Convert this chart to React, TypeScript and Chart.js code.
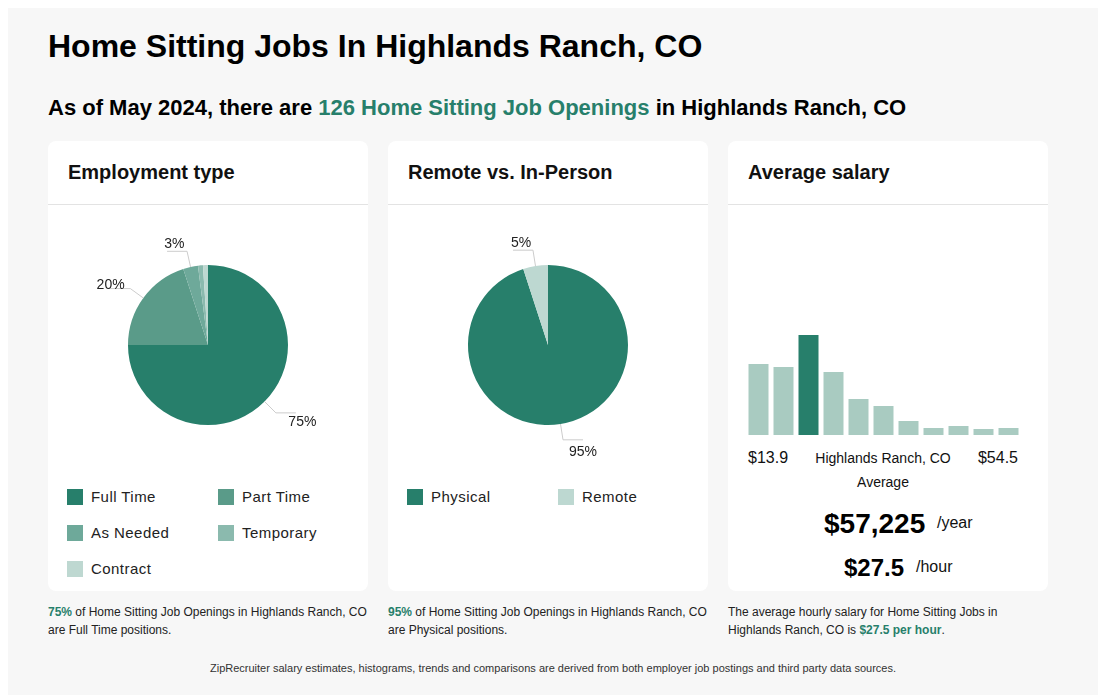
import React, { useEffect, useRef } from "react";
import { Chart, registerables } from "chart.js";

Chart.register(...registerables);

const FONT = '"Liberation Sans", Arial, Helvetica, sans-serif';
const GREEN = "#277f6b";

// ---- Data ----
const employmentLabels = ["Full Time", "Part Time", "As Needed", "Temporary", "Contract"];
const employmentValues = [75, 20, 3, 1, 1];
const employmentColors = ["#277f6b", "#5a9b89", "#6ea99a", "#8bbaae", "#bed8d1"];

const remoteLabels = ["Physical", "Remote"];
const remoteValues = [95, 5];
const remoteColors = ["#277f6b", "#bdd8d1"];

const salaryBins = ["Bin 1", "Bin 2", "Bin 3", "Bin 4", "Bin 5", "Bin 6", "Bin 7", "Bin 8", "Bin 9", "Bin 10", "Bin 11"];
const salaryCounts = [71, 68, 100, 63, 36, 29, 14, 7, 9, 6, 7];
const salaryHighlightIndex = 2;
const salaryMinLabel = "$13.9";
const salaryMaxLabel = "$54.5";
const salaryYear = "$57,225";
const salaryHour = "$27.5";

// ---- Pie label plugin ----
const pieLabelPlugin = {
  id: "pieOuterLabels",
  afterDatasetsDraw(chart: any) {
    const ctx = chart.ctx;
    const meta = chart.getDatasetMeta(0);
    const data = chart.data.datasets[0].data as number[];
    const total = data.reduce((a: number, b: number) => a + b, 0);
    meta.data.forEach((arc: any, i: number) => {
      const pct = Math.round((data[i] / total) * 100);
      if (pct < 2) return;
      const p = arc.getProps(["x", "y", "startAngle", "endAngle", "outerRadius"], true);
      const a = (p.startAngle + p.endAngle) / 2;
      const cx = Math.cos(a);
      const sy = Math.sin(a);
      const r = p.outerRadius;
      const ex = p.x + r * cx;
      const ey = p.y + r * sy;
      const kx = p.x + (r + 16) * cx;
      const ky = p.y + (r + 16) * sy;
      const side = cx >= 0 ? 1 : -1;
      const hx = kx + side * 20;
      ctx.save();
      ctx.strokeStyle = "#cccccc";
      ctx.lineWidth = 1;
      ctx.beginPath();
      ctx.moveTo(ex, ey);
      ctx.lineTo(kx, ky);
      ctx.lineTo(hx, ky);
      ctx.stroke();
      ctx.fillStyle = "#222222";
      ctx.font = "14px " + FONT;
      ctx.textAlign = "center";
      ctx.textBaseline = "middle";
      const tx = kx + side * (10 + 12 * Math.abs(cx) + (sy > 0 ? 8 : 0));
      const ty = ky + 9 * sy + (sy > 0 ? 3 : 2);
      ctx.fillText(pct + "%", tx, ty);
      ctx.restore();
    });
  },
};

function PieChart({ labels, values, colors }: { labels: string[]; values: number[]; colors: string[] }) {
  const ref = useRef<HTMLCanvasElement>(null);
  useEffect(() => {
    if (!ref.current) return;
    const chart = new Chart(ref.current, {
      type: "pie",
      data: {
        labels,
        datasets: [{ data: values, backgroundColor: colors, borderWidth: 0 }],
      },
      options: {
        responsive: false,
        animation: false,
        layout: { padding: { left: 80, right: 80, top: 60, bottom: 60 } },
        plugins: { legend: { display: false }, tooltip: { enabled: false } },
      },
      plugins: [pieLabelPlugin],
    } as any);
    return () => chart.destroy();
  }, []);
  return <canvas ref={ref} width={320} height={280} style={{ position: "absolute", left: 0, top: 64, width: 320, height: 280 }} />;
}

function SalaryBars() {
  const ref = useRef<HTMLCanvasElement>(null);
  useEffect(() => {
    if (!ref.current) return;
    const chart = new Chart(ref.current, {
      type: "bar",
      data: {
        labels: salaryBins,
        datasets: [
          {
            data: salaryCounts,
            backgroundColor: salaryCounts.map((_, i) => (i === salaryHighlightIndex ? "#277f6b" : "#a9cbc1")),
            borderWidth: 0,
            barPercentage: 0.8,
            categoryPercentage: 1.0,
          },
        ],
      },
      options: {
        responsive: false,
        animation: false,
        layout: { padding: 0 },
        scales: {
          x: { display: false },
          y: { display: false, min: 0, max: 120 },
        },
        plugins: { legend: { display: false }, tooltip: { enabled: false } },
      },
    } as any);
    return () => chart.destroy();
  }, []);
  return <canvas ref={ref} width={275} height={120} style={{ position: "absolute", left: 18, top: 174, width: 275, height: 120 }} />;
}

function Legend({ labels, colors }: { labels: string[]; colors: string[] }) {
  return (
    <>
      {labels.map((l, i) => {
        const col = i % 2;
        const row = Math.floor(i / 2);
        return (
          <div key={l} style={{ position: "absolute", left: 19 + col * 151, top: 348 + row * 36, height: 16, display: "flex", alignItems: "center" }}>
            <div style={{ width: 16, height: 16, background: colors[i] }} />
            <div style={{ marginLeft: 8, fontSize: 15, letterSpacing: 0.45, color: "#222", lineHeight: "16px", whiteSpace: "nowrap" }}>{l}</div>
          </div>
        );
      })}
    </>
  );
}

function Card({ left, title, children }: { left: number; title: string; children?: React.ReactNode }) {
  return (
    <div style={{ position: "absolute", left, top: 133, width: 320, height: 450, background: "#fff", borderRadius: 8, overflow: "hidden" }}>
      <div style={{ position: "absolute", left: 20, top: 15.5, fontSize: 20, fontWeight: "bold", lineHeight: "30px", color: "#111", whiteSpace: "nowrap" }}>{title}</div>
      <div style={{ position: "absolute", left: 0, top: 63, width: 320, height: 1, background: "#e3e3e3" }} />
      {children}
    </div>
  );
}

export default function App() {
  useEffect(() => {
    document.documentElement.style.overflow = "hidden";
    document.body.style.overflow = "hidden";
  }, []);
  const captionStyle: React.CSSProperties = { position: "absolute", top: 594.7, fontSize: 12, lineHeight: "18px", color: "#222", whiteSpace: "nowrap" };
  return (
    <div style={{ position: "relative", width: 1090, height: 687, background: "#f7f7f7", fontFamily: FONT, color: "#000" }}>
      <div style={{ position: "absolute", left: 40, top: 17.5, fontSize: 32, fontWeight: "bold", lineHeight: "40px", whiteSpace: "nowrap" }}>
        Home Sitting Jobs In Highlands Ranch, CO
      </div>
      <div style={{ position: "absolute", left: 40, top: 84.5, fontSize: 22, fontWeight: "bold", lineHeight: "30px", whiteSpace: "nowrap" }}>
        As of May 2024, there are <span style={{ color: GREEN }}>126 Home Sitting Job Openings</span> in Highlands Ranch, CO
      </div>

      <Card left={40} title="Employment type">
        <PieChart labels={employmentLabels} values={employmentValues} colors={employmentColors} />
        <Legend labels={employmentLabels} colors={employmentColors} />
      </Card>

      <Card left={380} title="Remote vs. In-Person">
        <PieChart labels={remoteLabels} values={remoteValues} colors={remoteColors} />
        <Legend labels={remoteLabels} colors={remoteColors} />
      </Card>

      <Card left={720} title="Average salary">
        <SalaryBars />
        <div style={{ position: "absolute", left: 20, top: 307, fontSize: 16, lineHeight: "20px", color: "#111" }}>{salaryMinLabel}</div>
        <div style={{ position: "absolute", right: 30, top: 307, fontSize: 16, lineHeight: "20px", color: "#111" }}>{salaryMaxLabel}</div>
        <div style={{ position: "absolute", left: 0, width: 310, top: 306.7, textAlign: "center", fontSize: 14, lineHeight: "20px", color: "#111" }}>Highlands Ranch, CO</div>
        <div style={{ position: "absolute", left: 0, width: 310, top: 331, textAlign: "center", fontSize: 14, lineHeight: "20px", color: "#111" }}>Average</div>
        <div style={{ position: "absolute", left: 96, top: 366, fontSize: 28, fontWeight: "bold", lineHeight: "34px" }}>{salaryYear}</div>
        <div style={{ position: "absolute", left: 209, top: 372, fontSize: 16, lineHeight: "20px", color: "#111" }}>/year</div>
        <div style={{ position: "absolute", left: 116, top: 412, fontSize: 24, fontWeight: "bold", lineHeight: "30px" }}>{salaryHour}</div>
        <div style={{ position: "absolute", left: 188, top: 416, fontSize: 16, lineHeight: "20px", color: "#111" }}>/hour</div>
      </Card>

      <div style={{ ...captionStyle, left: 40 }}>
        <b style={{ color: GREEN }}>75%</b> of Home Sitting Job Openings in Highlands Ranch, CO
        <br />
        are Full Time positions.
      </div>
      <div style={{ ...captionStyle, left: 380 }}>
        <b style={{ color: GREEN }}>95%</b> of Home Sitting Job Openings in Highlands Ranch, CO
        <br />
        are Physical positions.
      </div>
      <div style={{ ...captionStyle, left: 720 }}>
        The average hourly salary for Home Sitting Jobs in
        <br />
        Highlands Ranch, CO is <b style={{ color: GREEN }}>$27.5 per hour</b>.
      </div>

      <div style={{ position: "absolute", left: 0, width: 1090, top: 653.3, textAlign: "center", fontSize: 11, lineHeight: "14px", color: "#333" }}>
        ZipRecruiter salary estimates, histograms, trends and comparisons are derived from both employer job postings and third party data sources.
      </div>
    </div>
  );
}
